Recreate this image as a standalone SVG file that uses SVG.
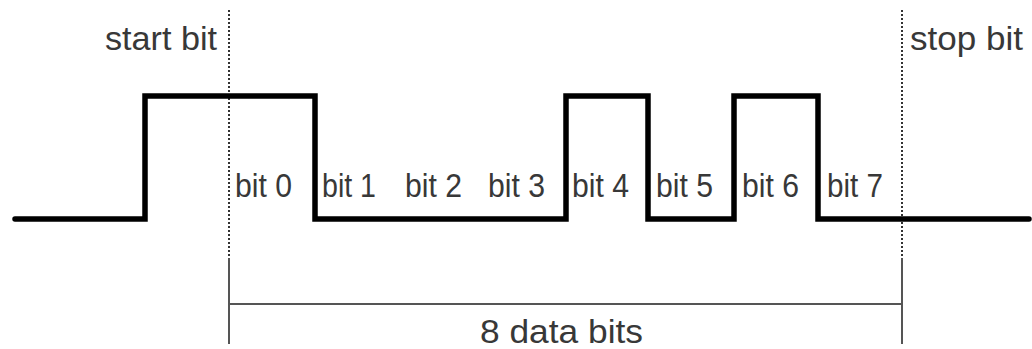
<svg xmlns="http://www.w3.org/2000/svg" width="1032" height="349" viewBox="0 0 1032 349">
<style>
.lbl{font-family:"Liberation Sans",Arial,sans-serif;font-size:33px;fill:#383838;}
.dot{stroke:#333;stroke-width:2;stroke-dasharray:2,2;fill:none;}
.thin{stroke:#555;stroke-width:2;fill:none;}
.wave{stroke:#000;stroke-width:5.5;fill:none;stroke-linejoin:miter;stroke-linecap:round;}
</style>
<rect width="1032" height="349" fill="#fff"/>
<g id="connectors">
<line class="dot" x1="229" y1="10" x2="229" y2="258"/>
<line class="dot" x1="902" y1="10" x2="902" y2="258"/>
<line class="thin" x1="229" y1="258" x2="229" y2="344"/>
<line class="thin" x1="902" y1="258" x2="902" y2="344"/>
<line class="thin" x1="229" y1="304" x2="902" y2="304"/>
</g>
<g id="waveform">
<polyline class="wave" points="15,219 145,219 145,96 315,96 315,219 566,219 566,96 648,96 648,219 734,219 734,96 818,96 818,219 1029,219"/>
</g>
<g id="start-bit"><text class="lbl" x="105" y="50" textLength="112" lengthAdjust="spacingAndGlyphs">start bit</text></g>
<g id="stop-bit"><text class="lbl" x="910" y="50" textLength="113" lengthAdjust="spacingAndGlyphs">stop bit</text></g>
<g id="bit0"><text class="lbl" x="235" y="197" textLength="57" lengthAdjust="spacingAndGlyphs">bit 0</text></g>
<g id="bit1"><text class="lbl" x="322" y="197" textLength="54" lengthAdjust="spacingAndGlyphs">bit 1</text></g>
<g id="bit2"><text class="lbl" x="405" y="197" textLength="57" lengthAdjust="spacingAndGlyphs">bit 2</text></g>
<g id="bit3"><text class="lbl" x="488" y="197" textLength="57" lengthAdjust="spacingAndGlyphs">bit 3</text></g>
<g id="bit4"><text class="lbl" x="572" y="197" textLength="57" lengthAdjust="spacingAndGlyphs">bit 4</text></g>
<g id="bit5"><text class="lbl" x="656" y="197" textLength="57" lengthAdjust="spacingAndGlyphs">bit 5</text></g>
<g id="bit6"><text class="lbl" x="742" y="197" textLength="57" lengthAdjust="spacingAndGlyphs">bit 6</text></g>
<g id="bit7"><text class="lbl" x="827" y="197" textLength="56" lengthAdjust="spacingAndGlyphs">bit 7</text></g>
<g id="data-bits"><text class="lbl" x="480" y="343" textLength="163" lengthAdjust="spacingAndGlyphs">8 data bits</text></g>
</svg>
